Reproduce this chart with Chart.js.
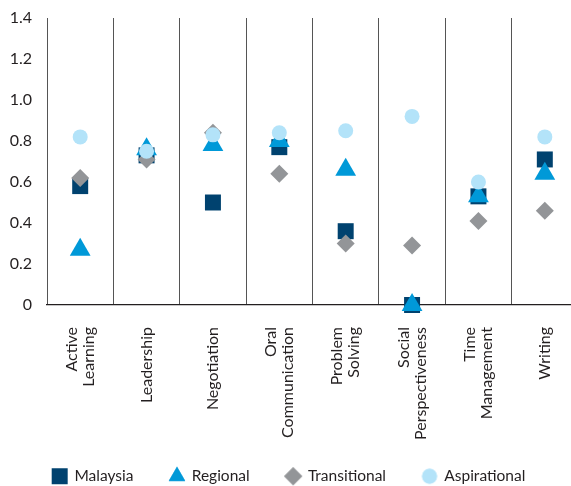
<!DOCTYPE html>
<html>
<head>
<meta charset="utf-8">
<script src="https://cdn.jsdelivr.net/npm/chart.js@4"></script>
<style>
    html, body { margin: 0; padding: 0; background: #fff; overflow: hidden; }
    #skillsChart { display: block; }
</style>
</head>
<body>
<canvas id="skillsChart" width="578" height="486"></canvas>
<script>
const skills = [['Active', 'Learning'], 'Leadership', 'Negotiation', ['Oral', 'Communication'],
    ['Problem', 'Solving'], ['Social', 'Perspectiveness'], ['Time', 'Management'], 'Writing'];
const malaysia = [0.58, 0.73, 0.50, 0.77, 0.36, 0.00, 0.53, 0.71];
const regional = [0.27, 0.76, 0.78, 0.80, 0.66, 0.00, 0.53, 0.64];
const transitional = [0.62, 0.71, 0.84, 0.64, 0.30, 0.29, 0.41, 0.46];
const aspirational = [0.82, 0.75, 0.83, 0.84, 0.85, 0.92, 0.60, 0.82];
const yTicks = [0, 0.2, 0.4, 0.6, 0.8, 1.0, 1.2, 1.4];

const textColor = '#231f20';
const fontFamily = 'Lato, "Noto Sans", sans-serif';

function markerSet(label, data, color, style, radius, order) {
    return {
        label: label,
        data: data,
        showLine: false,
        pointStyle: style,
        pointRadius: radius,
        pointHoverRadius: radius,
        pointBackgroundColor: color,
        pointBorderWidth: 0,
        backgroundColor: color,
        borderColor: color,
        borderWidth: 0,
        clip: false,
        order: order
    };
}

const datasets = [
    markerSet('Malaysia', malaysia, '#00426f', 'rect', 11.3, 4),
    markerSet('Regional', regional, '#0099d8', 'triangle', 12, 3),
    markerSet('Transitional', transitional, '#939598', 'rectRot', 9, 2),
    markerSet('Aspirational', aspirational, '#b3e3f9', 'circle', 7.5, 1)
];

// legend icons: same shapes as the markers, the triangle a bit smaller
const legendRadius = [11.3, 9.5, 9, 7.5];
function legendIcon(ds, i) {
    const c = document.createElement('canvas');
    c.width = 26;
    c.height = 26;
    const ctx = c.getContext('2d');
    ctx.fillStyle = ds.pointBackgroundColor;
    Chart.helpers.drawPoint(ctx, { pointStyle: ds.pointStyle, radius: legendRadius[i], borderWidth: 0 }, 13, 13);
    ctx.fill();
    return c;
}
const icons = datasets.map(legendIcon);

// vertical category names, multi-line names centred on their column
const categoryLabels = {
    id: 'categoryLabels',
    afterDraw(chart) {
        const { ctx, chartArea } = chart;
        const x = chart.scales.x;
        const lineHeight = 17;
        ctx.save();
        ctx.font = '16px ' + fontFamily;
        ctx.fillStyle = textColor;
        ctx.textAlign = 'right';
        ctx.textBaseline = 'middle';
        skills.forEach((label, i) => {
            const lines = [].concat(label);
            ctx.save();
            ctx.translate(x.getPixelForTick(i), chartArea.bottom + 22);
            ctx.rotate(-Math.PI / 2);
            lines.forEach((line, j) => {
                ctx.fillText(line, 0, (j - (lines.length - 1) / 2) * lineHeight);
            });
            ctx.restore();
        });
        ctx.restore();
    }
};

new Chart(document.getElementById('skillsChart'), {
    type: 'line',
    data: { labels: skills, datasets: datasets },
    plugins: [categoryLabels],
    options: {
        responsive: false,
        animation: false,
        events: [],
        layout: { autoPadding: false, padding: { top: 18, left: 0, right: 0, bottom: -8 } },
        plugins: {
            tooltip: { enabled: false },
            legend: {
                position: 'bottom',
                labels: {
                    usePointStyle: true,
                    pointStyleWidth: 14,
                    padding: 36.5,
                    color: textColor,
                    font: { family: fontFamily, size: 15.5 },
                    sort: (a, b) => a.datasetIndex - b.datasetIndex,
                    generateLabels: (chart) => {
                        const items = Chart.defaults.plugins.legend.labels.generateLabels(chart);
                        items.forEach(item => { item.pointStyle = icons[item.datasetIndex]; });
                        return items;
                    }
                }
            }
        },
        scales: {
            x: {
                offset: true,
                grid: { display: true, offset: true, color: '#555555', lineWidth: 1, drawTicks: false },
                border: { display: true, color: textColor, width: 1.2 },
                ticks: { display: false },
                afterFit: (scale) => {
                    scale.height = 127;
                    scale.paddingLeft = 0;
                    scale.paddingRight = 0;
                }
            },
            y: {
                min: 0,
                max: 1.4,
                afterBuildTicks: (scale) => { scale.ticks = yTicks.map(v => ({ value: v })); },
                grid: { display: false, drawTicks: false },
                border: { display: false },
                ticks: {
                    padding: 15,
                    color: textColor,
                    font: { family: fontFamily, size: 16 },
                    callback: (v) => v === 0 ? '0' : v.toFixed(1)
                },
                afterFit: (scale) => {
                    scale.width = 47;
                    scale.paddingTop = 0;
                    scale.paddingBottom = 0;
                }
            }
        }
    }
});
</script>
</body>
</html>
